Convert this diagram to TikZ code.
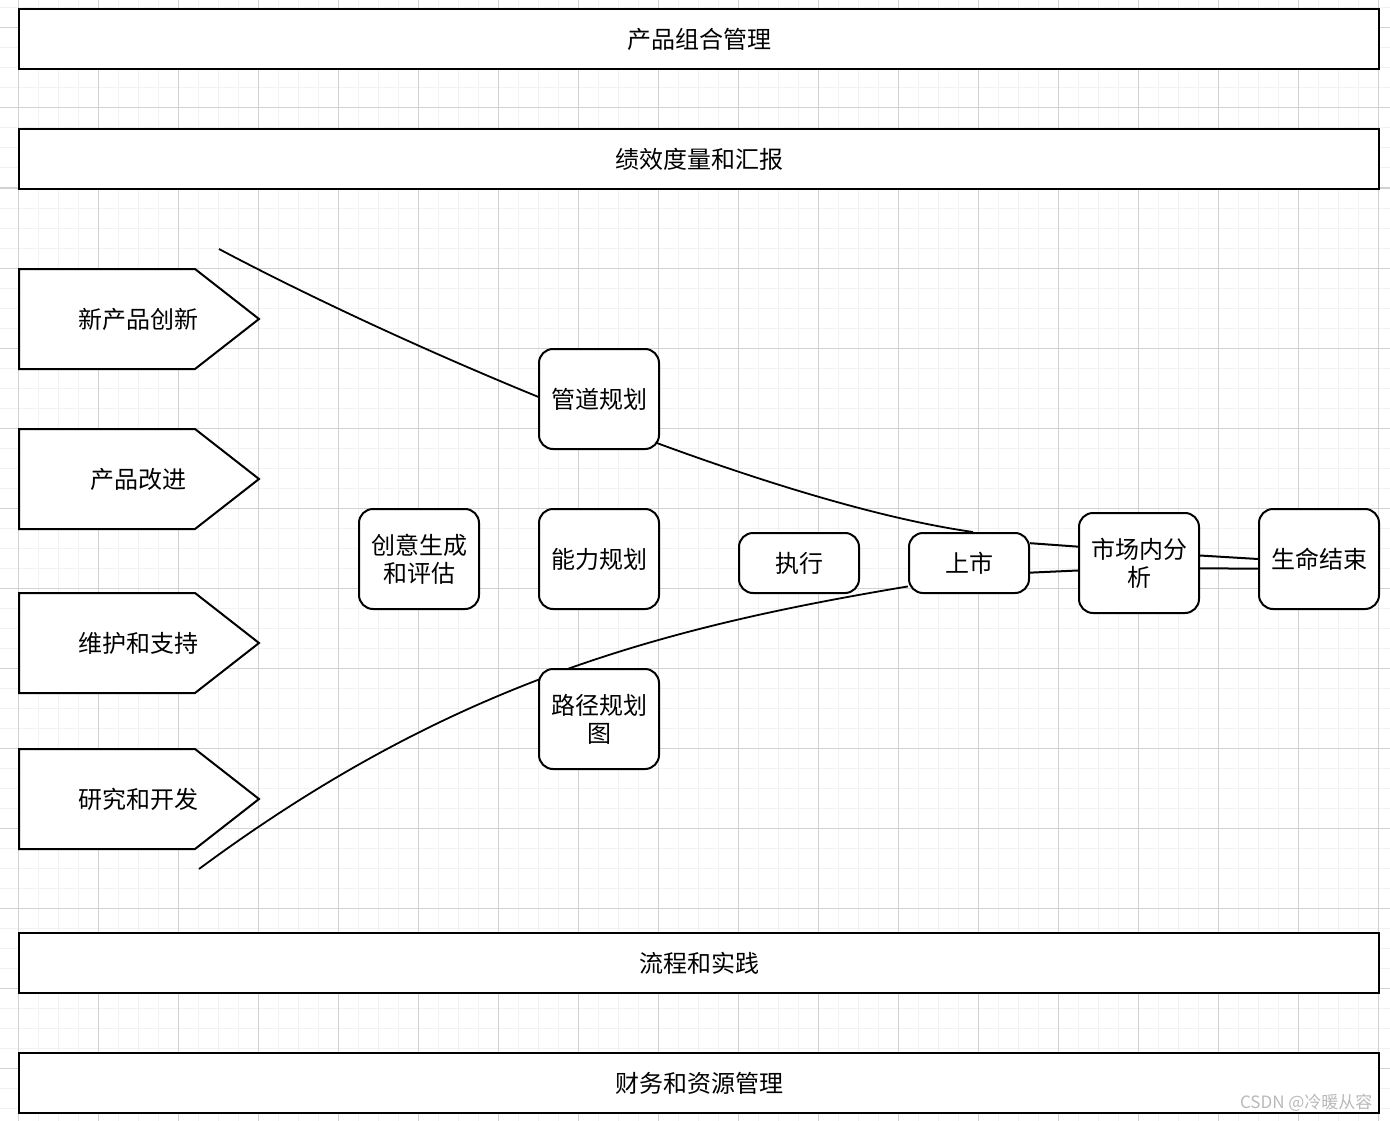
\documentclass[tikz,border=0pt]{standalone}
\usepackage{fontspec}
\setmainfont{Noto Sans CJK SC}
\usepackage{tikz}
\pgfdeclarelayer{gridlayer}
\pgfdeclarelayer{edgelayer}
\pgfsetlayers{gridlayer,edgelayer,main}

\begin{document}
\begin{tikzpicture}[x=1pt,y=-1pt]
        \tikzset{
          band/.style={draw, line width=2pt, fill=white, minimum width=1360pt, minimum height=60pt, inner sep=0pt, font=\fontsize{24}{28}\selectfont},
          stage/.style={draw, line width=2pt, fill=white, rounded corners=14pt, minimum width=120pt, minimum height=100pt, inner sep=0pt, align=center, font=\fontsize{24}{28}\selectfont},
          flatstage/.style={stage, minimum height=60pt},
          arrowbox/.style={draw, line width=2pt, fill=white, line join=miter},
          arrowtext/.style={font=\fontsize{24}{28}\selectfont},
          curve/.style={line width=1.8pt},
          link/.style={line width=2pt},
          gridminor/.style={line width=1pt, color=gray!10},
          gridmajor/.style={line width=1pt, color=gray!35}
        }
        \useasboundingbox (0,0) rectangle (1390,1121);
        % grid paper
        \begin{pgfonlayer}{gridlayer}
          \fill[white] (0,0) rectangle (1390,1121);
          \foreach \gx in {-2,18,...,1390} \draw[gridminor] (\gx,0) -- (\gx,1121);
          \foreach \gy in {8,28,...,1121} \draw[gridminor] (0,\gy) -- (1390,\gy);
          \foreach \gx in {18,98,...,1390} \draw[gridmajor] (\gx,0) -- (\gx,1121);
          \foreach \gy in {28,108,...,1121} \draw[gridmajor] (0,\gy) -- (1390,\gy);
        \end{pgfonlayer}

        % bands
        \node[band] (portfolio) at (699,39) {产品组合管理};
        \node[band] (perf) at (699,159) {绩效度量和汇报};
        \node[band] (process) at (699,963) {流程和实践};
        \node[band] (finance) at (699,1083) {财务和资源管理};

        % inputs
        \draw[arrowbox] (19,269) -- (195,269) -- (259,319) -- (195,369) -- (19,369) -- cycle;
        \node[arrowtext] (innov) at (138,319) {新产品创新};
        \draw[arrowbox] (19,429) -- (195,429) -- (259,479) -- (195,529) -- (19,529) -- cycle;
        \node[arrowtext] (improve) at (138,479) {产品改进};
        \draw[arrowbox] (19,593) -- (195,593) -- (259,643) -- (195,693) -- (19,693) -- cycle;
        \node[arrowtext] (support) at (138,643) {维护和支持};
        \draw[arrowbox] (19,749) -- (195,749) -- (259,799) -- (195,849) -- (19,849) -- cycle;
        \node[arrowtext] (rnd) at (138,799) {研究和开发};

        % stages
        \node[stage] (pipe) at (599,399) {管道规划};
        \node[stage] (idea) at (419,559) {创意生成\\和评估};
        \node[stage] (capab) at (599,559) {能力规划};
        \node[stage] (roadmap) at (599,719) {路径规划\\图};
        \node[flatstage] (exec) at (799,563) {执行};
        \node[flatstage] (launch) at (969,563) {上市};
        \node[stage] (market) at (1139,563) {市场内分\\析};
        \node[stage] (eol) at (1319,559) {生命结束};

        \coordinate (topstart) at (219,249);
        \coordinate (botstart) at (199,869);

        \begin{pgfonlayer}{edgelayer}
          \draw[curve] (topstart) .. controls (419,355) and (769,503) .. ([xshift=4pt]launch.north);
          \draw[curve] (botstart) .. controls (449,684) and (659,628) .. (launch.201);
        \end{pgfonlayer}
        \draw[link] (launch.18) -- (market.165);
        \draw[link] (launch.-9) -- (market.187);
        \draw[link] (market.7) -- (eol.west);
        \draw[link] (market.-5) -- (eol.189);

        \node[anchor=east, text=gray!55, font=\fontsize{17}{20}\selectfont] (mark) at (1376,1103) {CSDN @冷暖从容};
\end{tikzpicture}
\end{document}
